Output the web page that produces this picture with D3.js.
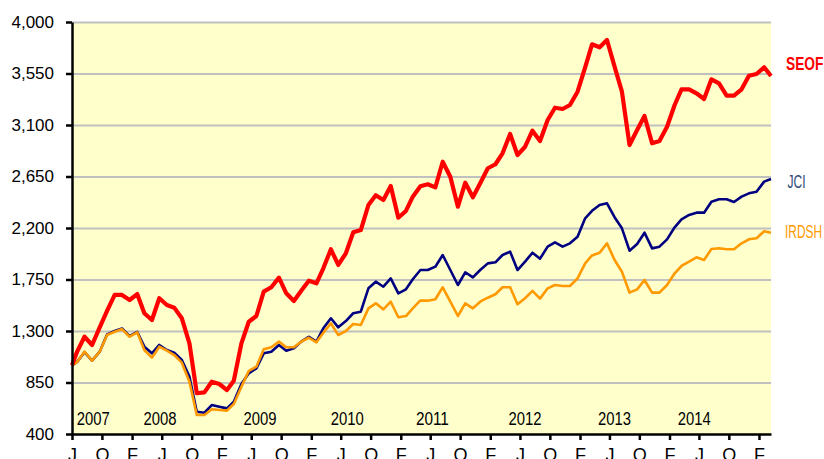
<!DOCTYPE html>
<html>
<head>
<meta charset="utf-8">
<script src="https://d3js.org/d3.v7.min.js"></script>
<style>
  body { margin: 0; background: #fff; }
  .gridlines line { stroke: #c0c0c0; stroke-width: 2.2; }
  .gridlines .domain { stroke: none; }
  .axis .domain, .axis line { stroke: #000; stroke-width: 2.5; }
  .y.axis text { font-family: "Liberation Sans", Arial, sans-serif; font-size: 17px; fill: #000; }
  .x.axis text { font-family: "Liberation Sans", Arial, sans-serif; font-size: 18px; fill: #000; }
  .year { font-family: "Liberation Sans", Arial, sans-serif; font-size: 18px; fill: #000; }
  .name { font-family: "Liberation Sans", Arial, sans-serif; font-size: 18px; }
</style>
</head>
<body>
<svg id="chart" width="824" height="459"></svg>
<script>
// monthly index values, first point Jun 2007 then around the 22nd of each month
const seof = [1000, 1120, 1250, 1178, 1332, 1475, 1615, 1615, 1571, 1623,
  1455, 1396, 1586, 1527, 1504, 1411, 1192, 756, 764, 857,
  837, 784, 866, 1192, 1381, 1431, 1644, 1682, 1766, 1629,
  1562, 1652, 1740, 1717, 1848, 2014, 1877, 1979, 2162, 2182,
  2401, 2486, 2445, 2567, 2290, 2349, 2474, 2565, 2582, 2555,
  2779, 2648, 2386, 2596, 2468, 2591, 2722, 2757, 2853, 3021,
  2838, 2910, 3050, 2960, 3144, 3251, 3240, 3275, 3391, 3604,
  3805, 3779, 3843, 3610, 3391, 2925, 3056, 3179, 2940, 2960,
  3085, 3275, 3412, 3412, 3377, 3327, 3499, 3464, 3356, 3356,
  3412, 3531, 3546, 3604, 3528];
const jci = [1000, 1030, 1115, 1041, 1119, 1270, 1300, 1322, 1255, 1293,
  1163, 1105, 1178, 1134, 1111, 1047, 901, 595, 586, 653,
  639, 624, 682, 837, 930, 974, 1105, 1119, 1178, 1128,
  1149, 1207, 1250, 1207, 1324, 1411, 1332, 1387, 1455, 1469,
  1673, 1731, 1687, 1760, 1629, 1664, 1752, 1833, 1833, 1862,
  1964, 1833, 1702, 1813, 1769, 1833, 1891, 1900, 1964, 1993,
  1833, 1906, 1984, 1932, 2037, 2075, 2037, 2066, 2124, 2285,
  2350, 2401, 2416, 2294, 2197, 2002, 2060, 2159, 2022, 2037,
  2101, 2206, 2276, 2314, 2334, 2334, 2430, 2451, 2451, 2427,
  2474, 2503, 2517, 2605, 2628];
const irdsh = [1000, 1030, 1119, 1041, 1119, 1265, 1294, 1317, 1250, 1289,
  1134, 1067, 1163, 1128, 1090, 1023, 857, 566, 566, 616,
  610, 604, 662, 813, 951, 988, 1140, 1158, 1207, 1158,
  1158, 1207, 1241, 1201, 1285, 1367, 1265, 1300, 1361, 1352,
  1498, 1542, 1489, 1556, 1420, 1431, 1498, 1567, 1565, 1577,
  1682, 1556, 1431, 1542, 1498, 1556, 1591, 1621, 1682, 1682,
  1533, 1586, 1650, 1583, 1673, 1702, 1693, 1693, 1760, 1891,
  1960, 1984, 2066, 1920, 1818, 1635, 1664, 1746, 1635, 1635,
  1702, 1804, 1868, 1906, 1944, 1920, 2017, 2023, 2014, 2014,
  2066, 2101, 2110, 2171, 2159];

const yTicks = [400, 850, 1300, 1750, 2200, 2650, 3100, 3550, 4000];
const monthLetters = { 5: "J", 9: "O", 1: "F" };
const yearLabels = ["2007", "2008", "2009", "2010", "2011", "2012", "2013", "2014"];
const yearLabelDates = ["2007-08-27", "2008-05-25", "2009-07-07", "2010-06-28",
  "2011-06-10", "2012-06-22", "2013-06-22", "2014-05-13"];

const dates = [new Date(2007, 5, 1)].concat(d3.range(94).map(i => new Date(2007, 5 + i, 22)));

const svg = d3.select("#chart");
const margins = { top: 22, right: 53, bottom: 25, left: 72 };
const chartWidth = 824 - margins.left - margins.right;
const chartHeight = 459 - margins.top - margins.bottom;

const x = d3.scaleTime()
  .domain([new Date(2007, 5, 1), new Date(2015, 2, 22)])
  .range([0, chartWidth]);
const y = d3.scaleLinear().domain([400, 4000]).range([chartHeight, 0]);

const chartArea = svg.append("g")
  .attr("transform", "translate(" + margins.left + "," + margins.top + ")");

chartArea.append("rect")
  .attr("width", chartWidth)
  .attr("height", chartHeight)
  .attr("fill", "#ffffcc");

chartArea.append("g")
  .attr("class", "gridlines")
  .call(d3.axisLeft(y).tickValues(yTicks.slice(1)).tickSize(-chartWidth).tickFormat(""));

// year labels
chartArea.selectAll(".year").data(yearLabels)
  .join("text")
  .attr("class", "year")
  .attr("x", (d, i) => x(new Date(yearLabelDates[i])) - 16.5)
  .attr("y", chartHeight - 9)
  .attr("textLength", 33)
  .attr("lengthAdjust", "spacingAndGlyphs")
  .text(d => d);

const line = d3.line()
  .x((d, i) => x(dates[i]))
  .y(d => y(d));

const series = [
  { name: "JCI", values: jci, color: "#000080", width: 2.6 },
  { name: "IRDSH", values: irdsh, color: "#ff9900", width: 2.6 },
  { name: "SEOF", values: seof, color: "#ff0000", width: 4.2 }
];

chartArea.selectAll(".series").data(series)
  .join("path")
  .attr("class", "series")
  .attr("fill", "none")
  .attr("stroke", d => d.color)
  .attr("stroke-width", d => d.width)
  .attr("stroke-linejoin", "round")
  .attr("d", d => line(d.values));

const tickDates = d3.timeMonth.range(new Date(2007, 5, 1), new Date(2015, 2, 2))
  .filter(d => monthLetters[d.getMonth()] !== undefined);

chartArea.append("g")
  .attr("class", "x axis")
  .attr("transform", "translate(0," + chartHeight + ")")
  .call(d3.axisBottom(x).tickValues(tickDates).tickSize(6).tickSizeOuter(0)
    .tickFormat(d => monthLetters[d.getMonth()]))
  .selectAll("text").attr("y", 27).attr("dy", 0);

chartArea.append("g")
  .attr("class", "y axis")
  .call(d3.axisLeft(y).tickValues(yTicks).tickSize(6).tickSizeOuter(0)
    .tickFormat(d3.format(",")))
  .selectAll("text").attr("x", -18);

// series names on the right, condensed like the original text boxes
const labelPos = {
  SEOF: { x: 786, y: 69.5, w: 37.5 },
  JCI: { x: 787.5, y: 188, w: 18 },
  IRDSH: { x: 785, y: 238, w: 37 }
};
svg.selectAll(".name").data(series)
  .join("text")
  .attr("class", "name")
  .attr("x", d => labelPos[d.name].x)
  .attr("y", d => labelPos[d.name].y)
  .attr("textLength", d => labelPos[d.name].w)
  .attr("lengthAdjust", "spacingAndGlyphs")
  .attr("fill", d => d.name === "JCI" ? "#2f4a78" : d.color)
  .attr("font-weight", d => d.name === "SEOF" ? "bold" : "normal")
  .text(d => d.name);
</script>
</body>
</html>
